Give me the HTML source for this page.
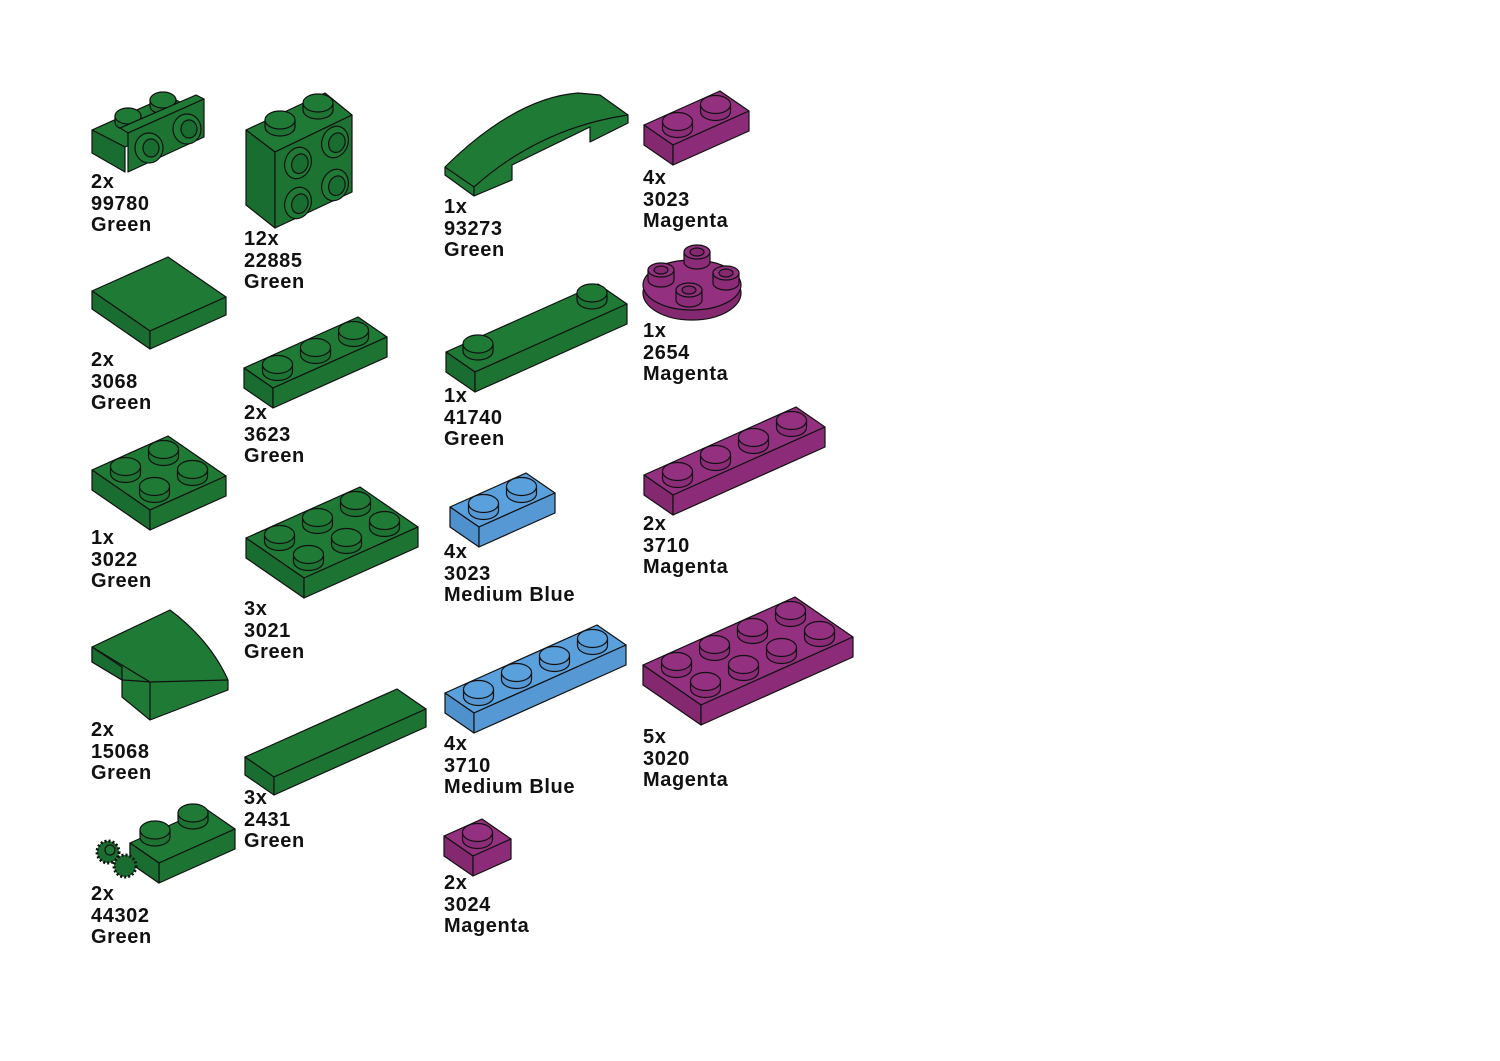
<!DOCTYPE html>
<html><head><meta charset="utf-8"><style>
html,body{margin:0;padding:0;background:#fff;}
body{width:1500px;height:1061px;position:relative;overflow:hidden;font-family:"Liberation Sans",sans-serif;}
svg{position:absolute;left:0;top:0;}
.l{position:absolute;font-weight:bold;font-size:20px;letter-spacing:0.6px;line-height:21.5px;color:#111;white-space:nowrap;}
</style></head><body>
<svg id="s" width="1500" height="1061" viewBox="0 0 1500 1061"></svg>
<div class="l" style="left:91px;top:172px">2x<br>99780<br>Green</div>
<div class="l" style="left:244px;top:229px">12x<br>22885<br>Green</div>
<div class="l" style="left:444px;top:197px">1x<br>93273<br>Green</div>
<div class="l" style="left:643px;top:168px">4x<br>3023<br>Magenta</div>
<div class="l" style="left:91px;top:350px">2x<br>3068<br>Green</div>
<div class="l" style="left:643px;top:321px">1x<br>2654<br>Magenta</div>
<div class="l" style="left:244px;top:403px">2x<br>3623<br>Green</div>
<div class="l" style="left:444px;top:386px">1x<br>41740<br>Green</div>
<div class="l" style="left:91px;top:528px">1x<br>3022<br>Green</div>
<div class="l" style="left:643px;top:514px">2x<br>3710<br>Magenta</div>
<div class="l" style="left:444px;top:542px">4x<br>3023<br>Medium Blue</div>
<div class="l" style="left:244px;top:599px">3x<br>3021<br>Green</div>
<div class="l" style="left:91px;top:720px">2x<br>15068<br>Green</div>
<div class="l" style="left:444px;top:734px">4x<br>3710<br>Medium Blue</div>
<div class="l" style="left:643px;top:727px">5x<br>3020<br>Magenta</div>
<div class="l" style="left:244px;top:788px">3x<br>2431<br>Green</div>
<div class="l" style="left:91px;top:884px">2x<br>44302<br>Green</div>
<div class="l" style="left:444px;top:873px">2x<br>3024<br>Magenta</div>
<script>
var G=['#1f7a36','#1a6d30','#1c7332'],M=['#93307f','#84296f','#8c2c78'],B=['#5aa0dc','#4f91cc','#5598d4'];
var out='';
var st='stroke="#111" stroke-width="1.2" stroke-linejoin="round"';
function P(pts,c){out+='<polygon points="'+pts.map(p=>p[0].toFixed(1)+','+p[1].toFixed(1)).join(' ')+'" fill="'+c+'" '+st+'/>';}
function add(p,v,k){return [p[0]+v[0]*k,p[1]+v[1]*k];}
function stud(c,col,r,ry,s){r=r||15;ry=ry||9;s=s||7;
 var x=c[0],y=c[1];
 out+='<path d="M'+(x-r)+','+(y-s)+' L'+(x-r)+','+y+' A'+r+','+ry+' 0 0 0 '+(x+r)+','+y+' L'+(x+r)+','+(y-s)+' Z" fill="'+col[2]+'" '+st+'/>';
 out+='<ellipse cx="'+x+'" cy="'+(y-s)+'" rx="'+r+'" ry="'+ry+'" fill="'+col[0]+'" '+st+'/>';}
var a=[38,-17],b=[29,20];
function plate(L,nx,ny,col,h,studs){h=h||20;
 var T1=add(L,a,nx),B1=add(L,b,ny),R=add(B1,a,nx);
 P([L,T1,R,B1],col[0]);
 P([L,B1,[B1[0],B1[1]+h],[L[0],L[1]+h]],col[1]);
 P([B1,R,[R[0],R[1]+h],[B1[0],B1[1]+h]],col[2]);
 if(studs!==false){var cs=[];for(var i=0;i<nx;i++)for(var j=0;j<ny;j++)cs.push(add(add(L,a,i+.5),b,j+.5));
  cs.sort((p,q)=>p[1]-q[1]);cs.forEach(c=>stud([c[0],c[1]+2],col));}}
plate([92,470],2,2,G);
plate([246,538],3,2,G);
plate([643,665],4,2,M);
plate([644,475],4,1,M);
plate([445,693],4,1,B);
plate([244,368],3,1,G);
plate([450,507],2,1,B);
plate([644,125],2,1,M);
plate([444,836],1,1,M);
plate([92,291],2,2,G,18,false);
plate([245,757],4,1,G,18,false);
plate([446,352],4,1,G,20,false);
stud([478,351],G);stud([592,300],G);
P([[246,130],[325,93],[352,115],[275,152]],G[0]);
P([[246,130],[275,152],[275,228],[246,205]],G[1]);
P([[275,152],[352,115],[352,192],[275,228]],G[2]);
stud([280,127],G);stud([318,110],G);
[[298,163],[335,142],[298,203],[335,185]].forEach(c=>{
 out+='<ellipse cx="'+c[0]+'" cy="'+c[1]+'" rx="13" ry="16" transform="rotate(20 '+c[0]+' '+c[1]+')" fill="'+G[0]+'" '+st+'/>';
 out+='<ellipse cx="'+(c[0]+2)+'" cy="'+c[1]+'" rx="8" ry="10" transform="rotate(20 '+c[0]+' '+c[1]+')" fill="'+G[1]+'" '+st+'/>';});
P([[92,130],[168,96],[200,112],[125,147]],G[0]);
stud([128,122],G,13,8,6);stud([163,106],G,13,8,6);
P([[92,130],[125,147],[125,172],[92,153]],G[1]);
P([[120,128],[196,95],[204,99],[128,133]],G[0]);
P([[128,133],[204,99],[204,137],[128,172]],G[2]);
[[149,148],[187,129]].forEach(c=>{
 out+='<ellipse cx="'+c[0]+'" cy="'+c[1]+'" rx="14" ry="15" fill="'+G[0]+'" '+st+'/>';
 out+='<ellipse cx="'+(c[0]+2)+'" cy="'+c[1]+'" rx="8" ry="9" fill="'+G[1]+'" '+st+'/>';});
out+='<path d="M445,167 Q515,98 578,93 L600,95 L628,115 L628,123 L590,142 L590,127 L512,165 L512,180 L474,196 L445,175 Z" fill="'+G[0]+'" '+st+'/>';
out+='<path d="M445,167 L474,187 Q540,128 628,115 M474,187 L474,196" fill="none" '+st+'/>';
out+='<ellipse cx="692" cy="293" rx="49" ry="27" fill="'+M[1]+'" '+st+'/>';
out+='<ellipse cx="692" cy="285" rx="49" ry="25" fill="'+M[0]+'" '+st+'/>';
[[697,262],[661,280],[726,283],[689,300]].forEach(c=>{stud(c,M,13,7,10);
 out+='<ellipse cx="'+c[0]+'" cy="'+(c[1]-10)+'" rx="7" ry="4" fill="'+M[1]+'" '+st+'/>';});
out+='<path d="M92,647 L170,610 Q210,640 228,680 L228,690 L150,720 L122,697 L122,680 L92,662 Z" fill="'+G[0]+'" '+st+'/>';
out+='<path d="M92,647 L150,682 L228,680 M150,682 Q125,680 122,680 M150,682 L150,720" fill="none" '+st+'/>';
P([[92,647],[122,667],[122,680],[92,662]],G[1]);
plate([130,843],2,1,G,20,false);
P([[130,843],[159,863],[159,883],[130,863]],G[1]);
stud([155,837],G);stud([193,820],G);
out+='<ellipse cx="108" cy="852" rx="11" ry="11" fill="'+G[1]+'" stroke="#111" stroke-width="3" stroke-dasharray="2 2"/>';
out+='<ellipse cx="125" cy="866" rx="11" ry="11" fill="'+G[1]+'" stroke="#111" stroke-width="3" stroke-dasharray="2 2"/>';
out+='<ellipse cx="110" cy="850" rx="5" ry="5" fill="'+G[0]+'" '+st+'/>';
document.getElementById('s').innerHTML=out;
</script>
</body></html>
